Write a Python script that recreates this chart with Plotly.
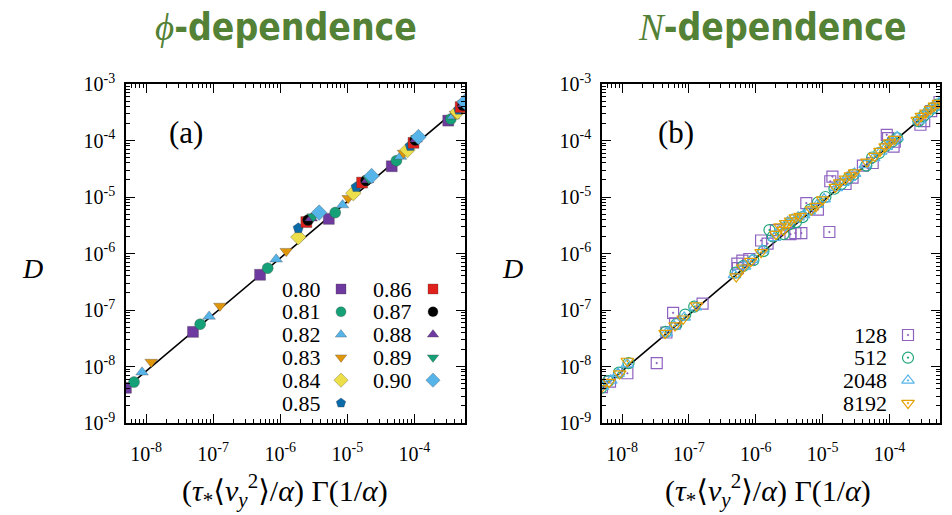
import plotly.graph_objects as go

W, H = 952, 515

# ---------------- data: panel (a) phi-dependence ----------------
phi_labels = ["0.80", "0.81", "0.82", "0.83", "0.84", "0.85", "0.86", "0.87", "0.88", "0.89", "0.90"]
phi_x = {
    "0.80": [5.0e-9, 5.0e-8, 5.0e-7, 5.3e-6, 4.6e-5, 3.2e-4],
    "0.81": [6.6e-9, 6.4e-8, 6.5e-7, 6.6e-6, 5.4e-5, 3.5e-4],
    "0.82": [8.7e-9, 8.7e-8, 8.7e-7, 8.5e-6, 6.2e-5, 3.8e-4],
    "0.83": [1.19e-8, 1.26e-7, 1.23e-6, 1.03e-5, 6.9e-5, 4.1e-4],
    "0.84": [1.86e-6, 1.23e-5, 7.9e-5, 4.4e-4],
    "0.85": [1.86e-6, 1.36e-5, 8.7e-5, 4.6e-4],
    "0.86": [2.45e-6, 1.66e-5, 9.7e-5, 4.9e-4],
    "0.87": [2.6e-6, 1.9e-5, 1.03e-4, 5.3e-4],
    "0.88": [2.9e-6, 2.0e-5, 1.06e-4, 5.4e-4],
    "0.89": [3.1e-6, 2.1e-5, 1.1e-4, 5.5e-4],
    "0.90": [3.8e-6, 2.3e-5, 1.15e-4, 5.6e-4],
}
phi_D = {
    "0.80": [4.2e-9, 4.1e-8, 4.2e-7, 4.1e-6, 3.5e-5, 2.25e-4],
    "0.81": [5.3e-9, 5.6e-8, 5.5e-7, 5.3e-6, 4.4e-5, 2.4e-4],
    "0.82": [7.9e-9, 7.7e-8, 7.9e-7, 7.2e-6, 5.2e-5, 2.7e-4],
    "0.83": [1.2e-8, 1.18e-7, 1.1e-6, 9.5e-6, 6.0e-5, 2.95e-4],
    "0.84": [1.95e-6, 1.17e-5, 6.8e-5, 3.2e-4],
    "0.85": [2.8e-6, 1.5e-5, 8.0e-5, 3.5e-4],
    "0.86": [3.6e-6, 1.8e-5, 9.1e-5, 3.9e-4],
    "0.87": [3.9e-6, 1.95e-5, 1.02e-4, 4.2e-4],
    "0.88": [4.2e-6, 2.0e-5, 1.05e-4, 4.4e-4],
    "0.89": [4.5e-6, 2.1e-5, 1.1e-4, 4.6e-4],
    "0.90": [5.3e-6, 2.35e-5, 1.15e-4, 4.8e-4],
}
phi_colors = ["#6f3a9f", "#16a077", "#56b4e9", "#e0960a", "#ecdf4a", "#0b6aa8",
              "#e0201a", "#000000", "#6f3a9f", "#16a077", "#56b4e9"]
phi_symbols = ["square", "circle", "triangle-up", "triangle-down", "diamond", "pentagon",
               "square", "circle", "triangle-up", "triangle-down", "diamond"]

# ---------------- data: panel (b) N-dependence ----------------
N_labels = ["128", "512", "2048", "8192"]
N_x = {
    "128": [5.0e-9, 6.6e-9, 1.2e-8, 3.3e-8, 4.6e-8, 5.8e-8, 6.2e-8, 1.6e-7,
            5.3e-7, 5.4e-7, 6.3e-7, 8.0e-7, 1.2e-6, 1.5e-6, 2.0e-6, 3.3e-6, 3.9e-6, 4.8e-6,
            5.7e-6, 8.5e-6, 1.26e-5, 1.3e-5, 1.4e-5, 2.2e-5, 2.8e-5,
            4.0e-5, 5.6e-5, 9.1e-5, 9.5e-5, 1.15e-4, 1.2e-4,
            2.9e-4, 3.3e-4, 4.2e-4, 5.2e-4, 5.6e-4],
    "512": [4.9e-9, 6.2e-9, 9.0e-9, 1.25e-8, 4.5e-8, 6.5e-8, 8.8e-8, 1.2e-7,
            5.0e-7, 6.5e-7, 9.2e-7, 1.3e-6, 1.6e-6, 1.8e-6, 2.6e-6, 3.2e-6, 4.0e-6, 5.0e-6,
            6.5e-6, 8.5e-6, 1.1e-5, 1.5e-5, 1.9e-5, 2.4e-5, 2.9e-5,
            4.5e-5, 5.5e-5, 7.0e-5, 8.8e-5, 1.1e-4, 1.3e-4,
            2.7e-4, 3.2e-4, 3.8e-4, 4.4e-4, 5.2e-4],
    "2048": [5.1e-9, 6.8e-9, 8.7e-9, 1.2e-8, 4.6e-8, 6.0e-8, 8.5e-8, 1.25e-7,
             4.8e-7, 6.8e-7, 8.8e-7, 1.25e-6, 1.9e-6, 2.4e-6, 3.0e-6, 3.5e-6, 4.3e-6, 5.2e-6,
             6.3e-6, 8.3e-6, 1.05e-5, 1.6e-5, 2.0e-5, 2.5e-5, 3.0e-5,
             4.3e-5, 5.8e-5, 7.4e-5, 9.0e-5, 1.1e-4, 1.3e-4,
             2.8e-4, 3.3e-4, 3.9e-4, 4.6e-4, 5.5e-4],
    "8192": [4.8e-9, 6.4e-9, 9.2e-9, 1.2e-8, 4.4e-8, 6.2e-8, 8.2e-8, 1.3e-7,
             5.1e-7, 6.4e-7, 8.4e-7, 1.2e-6, 2.0e-6, 2.3e-6, 2.6e-6, 2.8e-6, 3.3e-6, 3.9e-6, 4.6e-6,
             6.8e-6, 8.0e-6, 1.0e-5, 1.55e-5, 1.8e-5, 2.2e-5, 2.6e-5, 3.0e-5,
             4.6e-5, 6.0e-5, 7.2e-5, 8.6e-5, 1.0e-4, 1.2e-4,
             2.6e-4, 3.0e-4, 3.5e-4, 4.1e-4, 4.7e-4, 5.4e-4],
}
N_D = {
    "128": [4.3e-9, 5.4e-9, 7.6e-9, 1.15e-8, 4.0e-8, 8.9e-8, 5.8e-8, 1.3e-7,
            6.6e-7, 5.5e-7, 7.5e-7, 8.0e-7, 1.7e-6, 1.5e-6, 2.6e-6, 2.2e-6, 2.3e-6, 2.3e-6,
            7.8e-6, 6.0e-6, 2.4e-6, 1.9e-5, 2.3e-5, 1.7e-5, 2.2e-5,
            3.6e-5, 4.0e-5, 1.26e-4, 1.1e-4, 7.8e-5, 9.5e-5,
            1.9e-4, 2.2e-4, 3.3e-4, 3.8e-4, 4.8e-4],
    "512": [4.2e-9, 5.5e-9, 7.8e-9, 1.15e-8, 4.1e-8, 5.6e-8, 8.3e-8, 1.15e-7,
            4.6e-7, 6.0e-7, 7.6e-7, 1.1e-6, 2.6e-6, 2.0e-6, 2.2e-6, 3.3e-6, 3.6e-6, 4.4e-6,
            6.0e-6, 8.0e-6, 1.0e-5, 1.4e-5, 1.7e-5, 2.1e-5, 2.5e-5,
            3.6e-5, 5.0e-5, 6.0e-5, 8.0e-5, 9.6e-5, 1.1e-4,
            2.2e-4, 2.7e-4, 3.2e-4, 3.7e-4, 4.3e-4],
    "2048": [4.4e-9, 5.7e-9, 7.5e-9, 1.1e-8, 3.9e-8, 5.2e-8, 7.4e-8, 1.12e-7,
             4.2e-7, 5.9e-7, 7.8e-7, 1.15e-6, 1.9e-6, 2.9e-6, 3.6e-6, 4.0e-6, 4.4e-6, 4.8e-6,
             5.6e-6, 7.3e-6, 9.2e-6, 1.45e-5, 1.8e-5, 2.2e-5, 2.6e-5,
             3.7e-5, 4.9e-5, 6.4e-5, 7.8e-5, 9.6e-5, 1.15e-4,
             2.3e-4, 2.9e-4, 3.4e-4, 3.9e-4, 4.6e-4],
    "8192": [4.1e-9, 5.3e-9, 7.5e-9, 1.25e-8, 3.9e-8, 5.3e-8, 7.0e-8, 1.2e-7,
             3.9e-7, 5.6e-7, 7.3e-7, 1.05e-6, 2.2e-6, 3.0e-6, 2.6e-6, 3.4e-6, 3.8e-6, 4.3e-6, 4.6e-6,
             6.0e-6, 6.9e-6, 9.0e-6, 1.5e-5, 1.8e-5, 2.1e-5, 2.4e-5, 2.7e-5,
             4.2e-5, 5.3e-5, 6.5e-5, 7.8e-5, 9.2e-5, 1.06e-4,
             2.3e-4, 2.7e-4, 3.1e-4, 3.6e-4, 4.1e-4, 4.6e-4],
}
N_colors = ["#8e62c0", "#1fa57a", "#56b4e9", "#e69f00"]
N_symbols = ["square-open-dot", "circle-open-dot", "triangle-up-open-dot", "triangle-down-open-dot"]

# fitted line (same in both panels)
line_x = [5.0e-9, 5.7e-4]
line_D = [4.15e-9, 4.73e-4]

# axis ticks
tick_vals = [1e-9, 1e-8, 1e-7, 1e-6, 1e-5, 1e-4, 1e-3]
tick_text = ["10<sup>-9</sup>", "10<sup>-8</sup>", "10<sup>-7</sup>", "10<sup>-6</sup>",
             "10<sup>-5</sup>", "10<sup>-4</sup>", "10<sup>-3</sup>"]

SERIF = "Liberation Serif, Times New Roman, DejaVu Serif, serif"
GREEN = "#538135"

fig = go.Figure()

# panel (a)
fig.add_trace(go.Scatter(x=line_x, y=line_D, mode="lines", line=dict(color="black", width=1.6),
                         xaxis="x", yaxis="y", showlegend=False, hoverinfo="skip"))
for lab, col, sym in zip(phi_labels, phi_colors, phi_symbols):
    fig.add_trace(go.Scatter(
        x=phi_x[lab], y=phi_D[lab], mode="markers", name=lab, xaxis="x", yaxis="y",
        marker=dict(symbol=sym, size=11 if sym != "diamond" else 12, color=col,
                    line=dict(color="rgba(60,60,60,0.55)", width=0.6)),
        showlegend=False))

# panel (b)
fig.add_trace(go.Scatter(x=line_x, y=line_D, mode="lines", line=dict(color="black", width=1.6),
                         xaxis="x2", yaxis="y2", showlegend=False, hoverinfo="skip"))
for lab, col, sym in zip(N_labels, N_colors, N_symbols):
    fig.add_trace(go.Scatter(
        x=N_x[lab], y=N_D[lab], mode="markers", name=lab, xaxis="x2", yaxis="y2",
        marker=dict(symbol=sym, size=11, color=col, line=dict(color=col, width=1.2)),
        showlegend=False))

# ---- hand-built gnuplot-style keys (text then symbol), on a pixel overlay axis ----
def px(x):
    return x / W

def py(y):
    return 1 - y / H

annotations = []
row_a = 22.8
for i, (lab, col, sym) in enumerate(zip(phi_labels, phi_colors, phi_symbols)):
    colm = 0 if i < 6 else 1
    r = i if i < 6 else i - 6
    yk = 289 + r * row_a
    xt = 322 if colm == 0 else 413
    xm = 341 if colm == 0 else 433
    annotations.append(dict(x=px(xt), y=py(yk), xref="paper", yref="paper", text=lab,
                            showarrow=False, xanchor="right", yanchor="middle", height=21,
                            borderpad=0,
                            font=dict(family=SERIF, size=22, color="black")))
    fig.add_trace(go.Scatter(x=[xm], y=[yk], mode="markers", xaxis="x3", yaxis="y3",
                             marker=dict(symbol=sym, size=10 if sym != "diamond" else 11, color=col,
                                         line=dict(color="rgba(60,60,60,0.5)", width=0.6)),
                             showlegend=False, hoverinfo="skip"))

for i, (lab, col, sym) in enumerate(zip(N_labels, N_colors, N_symbols)):
    yk = 335 + i * 22.7
    annotations.append(dict(x=px(888), y=py(yk), xref="paper", yref="paper", text=lab,
                            showarrow=False, xanchor="right", yanchor="middle", height=21,
                            borderpad=0,
                            font=dict(family=SERIF, size=22, color="black")))
    fig.add_trace(go.Scatter(x=[908], y=[yk], mode="markers", xaxis="x3", yaxis="y3",
                             marker=dict(symbol=sym, size=11, color=col, line=dict(color=col, width=1.2)),
                             showlegend=False, hoverinfo="skip"))

# titles and labels
title_font = dict(family="DejaVu Sans Condensed, Liberation Sans Narrow, Roboto, sans-serif",
                  size=37, color=GREEN, weight="bold")
annotations += [
    dict(x=px(286), y=py(27), xref="paper", yref="paper", showarrow=False,
         text="<span style='font-family:Liberation Serif,serif;font-weight:normal'><i>ϕ</i></span>-dependence",
         font=title_font, xanchor="center", yanchor="middle"),
    dict(x=px(772), y=py(27), xref="paper", yref="paper", showarrow=False,
         text="<span style='font-family:Liberation Serif,serif;font-weight:normal'><i>N</i></span>-dependence",
         font=title_font, xanchor="center", yanchor="middle"),
    dict(x=px(186), y=py(133), xref="paper", yref="paper", showarrow=False, text="(a)",
         xanchor="center", yanchor="middle", font=dict(family=SERIF, size=31, color="black")),
    dict(x=px(676), y=py(133), xref="paper", yref="paper", showarrow=False, text="(b)",
         xanchor="center", yanchor="middle", font=dict(family=SERIF, size=31, color="black")),
    dict(x=px(32), y=py(268), xref="paper", yref="paper", showarrow=False, text="<i>D</i>",
         xanchor="center", yanchor="middle", font=dict(family=SERIF, size=28, color="black")),
    dict(x=px(512), y=py(268), xref="paper", yref="paper", showarrow=False, text="<i>D</i>",
         xanchor="center", yanchor="middle", font=dict(family=SERIF, size=28, color="black")),
]
xlabel = "(<i>τ</i><sub>*</sub>⟨<i>v</i><sub><i>y</i></sub><sup>2</sup>⟩/<i>α</i>) Γ(1/<i>α</i>)"
annotations += [
    dict(x=px(285), y=py(490), xref="paper", yref="paper", showarrow=False, text=xlabel,
         xanchor="center", yanchor="middle", font=dict(family=SERIF, size=30, color="black")),
    dict(x=px(768), y=py(490), xref="paper", yref="paper", showarrow=False, text=xlabel,
         xanchor="center", yanchor="middle", font=dict(family=SERIF, size=30, color="black")),
]

common = dict(type="log", showgrid=False, zeroline=False, showline=True, linecolor="black",
              linewidth=1.5, mirror="allticks", ticks="inside", ticklen=9, tickwidth=1,
              tickcolor="black", tickmode="array", tickvals=tick_vals, ticktext=tick_text,
              tickfont=dict(family=SERIF, size=20, color="black"), automargin=False,
              minor=dict(ticks="inside", ticklen=4.5, tickwidth=0.8, tickcolor="black", dtick="D1",
                         showgrid=False))
xr = [-8.3, -3.245]
yr = [-9, -3]
ya = [py(423), py(84)]

fig.update_layout(
    width=W, height=H, margin=dict(l=0, r=0, t=0, b=0, pad=0, autoexpand=False),
    paper_bgcolor="white", plot_bgcolor="rgba(0,0,0,0)",
    xaxis=dict(domain=[px(126), px(465)], range=xr, anchor="y", ticklabelstandoff=12, **common),
    yaxis=dict(domain=ya, range=yr, anchor="x", ticklabelstandoff=5, **common),
    xaxis2=dict(domain=[px(602), px(940)], range=xr, anchor="y2", ticklabelstandoff=12, **common),
    yaxis2=dict(domain=ya, range=yr, anchor="x2", ticklabelstandoff=5, **common),
    xaxis3=dict(domain=[0, 1], range=[0, W], visible=False, fixedrange=True, anchor="y3"),
    yaxis3=dict(domain=[0, 1], range=[H, 0], visible=False, fixedrange=True, anchor="x3"),
    annotations=annotations,
    showlegend=False,
)

fig.write_html("out.html", config={"displayModeBar": False},
               post_script="document.body.style.margin='0px';")
